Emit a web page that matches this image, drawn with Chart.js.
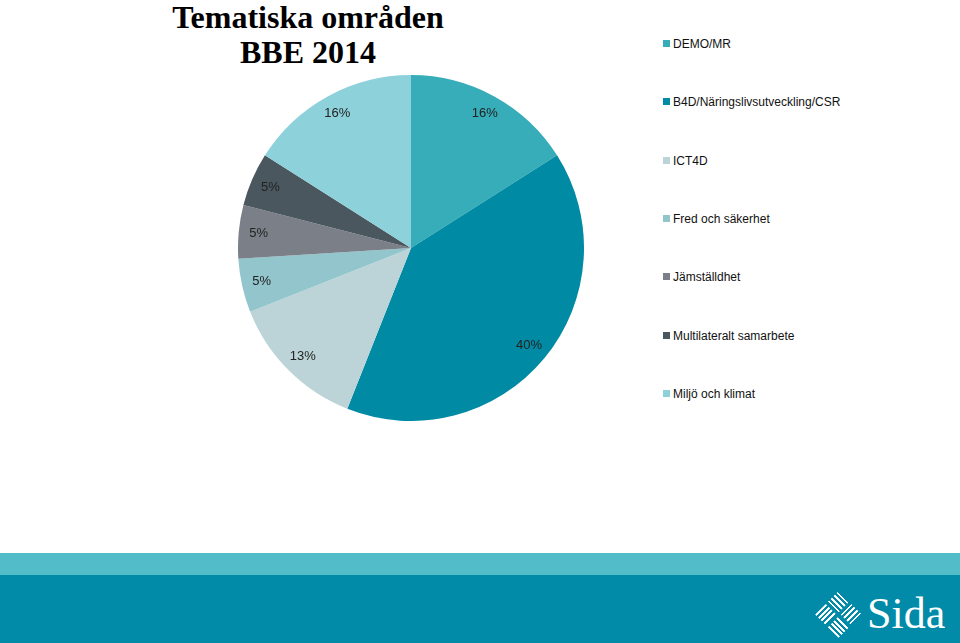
<!DOCTYPE html>
<html>
<head>
<meta charset="utf-8">
<script src="https://cdn.jsdelivr.net/npm/chart.js@4"></script>
<style>
  body { margin: 0; width: 960px; height: 643px; position: relative; overflow: hidden; background: #fff; font-family: "Liberation Sans", Arial, sans-serif; }
  #title { position: absolute; left: 108px; top: 0; width: 400px; text-align: center; font-family: "Liberation Serif", "Times New Roman", serif; font-weight: bold; font-size: 32px; line-height: 35px; color: #000; }
  #pieBox { position: absolute; left: 238px; top: 75px; width: 346px; height: 346px; }
  #legend { position: absolute; left: 663px; top: 0; }
  .item { position: absolute; left: 0; white-space: nowrap; font-size: 12px; color: #111; }
  .item span.box { display: inline-block; width: 7px; height: 7px; margin-right: 3px; vertical-align: 1px; }
  #band1 { position: absolute; left: 0; top: 553px; width: 960px; height: 22px; background: #52bdc9; }
  #band2 { position: absolute; left: 0; top: 575px; width: 960px; height: 68px; background: #018ba8; }
  #logo { position: absolute; left: 822px; top: 598px; width: 33px; height: 33px; transform: rotate(45deg); }
  #logo div { position: absolute; width: 15px; height: 15px; }
  .h { background: repeating-linear-gradient(0deg, #fff 0 2px, transparent 2px 4px); }
  .v { background: repeating-linear-gradient(90deg, #fff 0 2px, transparent 2px 4px); }
  #sida { position: absolute; left: 867px; top: 588px; font-family: "Liberation Serif", "Times New Roman", serif; font-size: 44px; color: #fff; }
</style>
</head>
<body>
<div id="title">Tematiska områden<br>BBE 2014</div>
<div id="pieBox"><canvas id="myChart1"></canvas></div>
<div id="legend"></div>
<div id="band1"></div>
<div id="band2"></div>
<div id="logo">
  <div class="h" style="left:0;top:0"></div>
  <div class="v" style="left:18px;top:0"></div>
  <div class="v" style="left:0;top:18px"></div>
  <div class="h" style="left:18px;top:18px"></div>
</div>
<div id="sida">Sida</div>
<script>
const categories = [
  "DEMO/MR",
  "B4D/Näringslivsutveckling/CSR",
  "ICT4D",
  "Fred och säkerhet",
  "Jämställdhet",
  "Multilateralt samarbete",
  "Miljö och klimat",
];
const shares = [16, 40, 13, 5, 5, 5, 16];
const sliceColors = ["#36adb8", "#018aa3", "#bcd4d7", "#92c5cc", "#7b8088", "#4b575f", "#8dd1da"];

// legend built from the same arrays
const legend = document.getElementById("legend");
categories.forEach(function (name, i) {
  const div = document.createElement("div");
  div.className = "item";
  div.style.top = (37 + i * 58.3) + "px";
  div.innerHTML = '<span class="box" style="background:' + sliceColors[i] + '"></span>' + name;
  legend.appendChild(div);
});

// percent labels inside each slice
const sliceLabels = {
  id: "sliceLabels",
  afterDatasetsDraw(chart) {
    const ctx = chart.ctx;
    const meta = chart.getDatasetMeta(0);
    ctx.save();
    ctx.font = "13px 'Liberation Sans', Arial, sans-serif";
    ctx.fillStyle = "#222";
    ctx.textAlign = "center";
    ctx.textBaseline = "middle";
    meta.data.forEach(function (arc, i) {
      const mid = (arc.startAngle + arc.endAngle) / 2;
      const r = arc.outerRadius * 0.885;
      ctx.fillText(shares[i] + "%", arc.x + Math.cos(mid) * r, arc.y + Math.sin(mid) * r);
    });
    ctx.restore();
  },
};

const myChart1 = document.getElementById("myChart1").getContext("2d");
new Chart(myChart1, {
  type: "pie",
  data: {
    labels: categories,
    datasets: [
      {
        data: shares,
        backgroundColor: sliceColors,
        borderWidth: 0,
        hoverOffset: 0,
      },
    ],
  },
  options: {
    responsive: true,
    maintainAspectRatio: false,
    animation: false,
    layout: { padding: 0 },
    plugins: {
      legend: { display: false },
      tooltip: { enabled: false },
    },
  },
  plugins: [sliceLabels],
});
</script>
</body>
</html>
